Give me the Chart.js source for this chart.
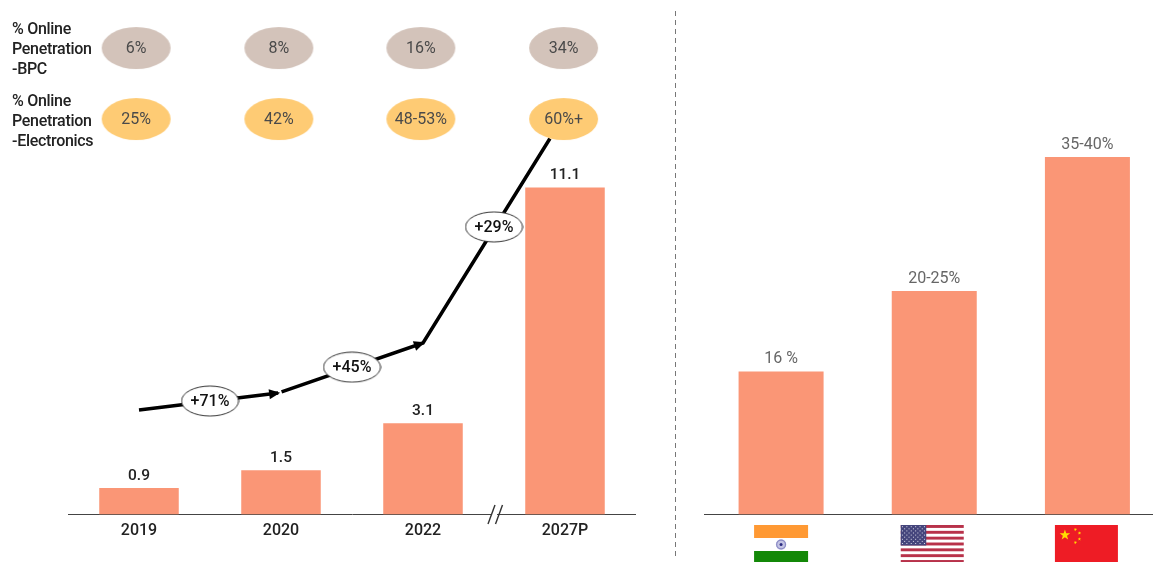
<!DOCTYPE html>
<html>
<head>
<meta charset="utf-8">
<title>Online penetration</title>
<script src="https://cdn.jsdelivr.net/npm/chart.js@4/dist/chart.umd.min.js"></script>
<style>
  html, body { margin: 0; padding: 0; background: #fff; overflow: hidden; }
  #page { position: relative; width: 1153px; height: 562px; overflow: hidden; }
  canvas { position: absolute; top: 0; }
  #left-chart, #left-overlay { left: 0; }
  #right-chart { left: 675px; }
  .row-title {
    position: absolute; left: 12px; font: 500 16px/20px Roboto, sans-serif;
    color: #222; letter-spacing: -0.3px;
  }
</style>
</head>
<body>
<div id="page">
  <canvas id="left-chart" width="636" height="562"></canvas>
  <canvas id="left-overlay" width="636" height="562"></canvas>
  <canvas id="right-chart" width="489" height="562"></canvas>
  <div class="row-title" style="top:19px">% Online<br>Penetration<br>-BPC</div>
  <div class="row-title" style="top:90.5px">% Online<br>Penetration<br>-Electronics</div>
</div>
<script>
// Left chart data
const years = ['2019', '2020', '2022', '2027P'];
const marketSize = [0.9, 1.5, 3.1, 11.1];
const marketLabels = ['0.9', '1.5', '3.1', '11.1'];
const bpcPenetration = ['6%', '8%', '16%', '34%'];
const electronicsPenetration = ['25%', '42%', '48-53%', '60%+'];
const growthRates = ['+71%', '+45%', '+29%'];

// Growth arrow path, in bar units; null breaks the line
const growthLineX = [0, 0.98, null, 1.004, 2, 2.894];
const growthLineY = [3.55, 4.12, null, 4.16, 5.82, 12.76];

// Right chart data
const countries = ['India', 'USA', 'China'];
const countryShare = [16, 25, 40];
const countryLabels = ['16 %', '20-25%', '35-40%'];

// Colours
const BAR_COLOR = '#fa9676';
const BPC_COLOR = '#d3c3ba';
const ELECTRONICS_COLOR = '#fecb74';

// Where the ellipses sit on the overlay axes
const ROW_Y_BPC = 15.83;
const ROW_Y_ELECTRONICS = 13.42;
const PILL_X = [-0.02, 0.985, 1.985, 2.99];
const BADGE_X = [0.5, 1.5, 2.5];
const BADGE_Y = [3.85, 5.0, 9.76];

const Y_MAX_LEFT = 17.46;

// Build an ellipse image to use as a point style
function ellipseImage(w, h, fill, stroke) {
  const c = document.createElement('canvas');
  c.width = w;
  c.height = h;
  const g = c.getContext('2d');
  g.beginPath();
  g.ellipse(w / 2, h / 2, w / 2 - 1, h / 2 - 1, 0, 0, Math.PI * 2);
  g.fillStyle = fill;
  g.fill();
  if (stroke) {
    g.strokeStyle = stroke;
    g.lineWidth = 1;
    g.stroke();
  }
  return c;
}

function drawText(ctx, text, x, y, font, color) {
  ctx.font = font;
  ctx.fillStyle = color;
  ctx.textAlign = 'center';
  ctx.textBaseline = 'middle';
  ctx.fillText(text, x, y + 1);
}

function arrowHead(ctx, from, to) {
  const angle = Math.atan2(to.y - from.y, to.x - from.x);
  ctx.save();
  ctx.translate(to.x, to.y);
  ctx.rotate(angle);
  ctx.beginPath();
  ctx.moveTo(2, 0);
  ctx.lineTo(-9, -5);
  ctx.lineTo(-9, 5);
  ctx.closePath();
  ctx.fillStyle = '#000';
  ctx.fill();
  ctx.restore();
}

// Bar values and the axis break on the left chart
const leftLabels = {
  id: 'leftLabels',
  afterDatasetsDraw(chart) {
    const ctx = chart.ctx;
    chart.getDatasetMeta(0).data.forEach((bar, i) => {
      drawText(ctx, marketLabels[i], bar.x, bar.y - 13, '500 15.5px Roboto, sans-serif', '#222');
    });

    // axis break between 2022 and 2027P
    const x = chart.scales.x;
    const bx = (x.getPixelForValue(2) + x.getPixelForValue(3)) / 2;
    const by = chart.scales.y.getPixelForValue(0);
    ctx.save();
    ctx.fillStyle = '#fff';
    ctx.fillRect(bx - 2, by - 2, 5, 4);
    ctx.strokeStyle = '#333';
    ctx.lineWidth = 1.4;
    [-2.5, 5].forEach(dx => {
      ctx.beginPath();
      ctx.moveTo(bx + dx - 3.5, by + 9.5);
      ctx.lineTo(bx + dx + 3.5, by - 9.5);
      ctx.stroke();
    });
    ctx.restore();
  }
};

// Texts inside the ellipses and the arrow heads on the overlay
const overlayLabels = {
  id: 'overlayLabels',
  afterDatasetsDraw(chart) {
    const ctx = chart.ctx;
    const pillFont = '400 16px Roboto, sans-serif';

    const line = chart.getDatasetMeta(0).data;
    arrowHead(ctx, line[0], line[1]);
    arrowHead(ctx, line[3], line[4]);

    chart.getDatasetMeta(1).data.forEach((pt, i) => {
      drawText(ctx, growthRates[i], pt.x, pt.y, '500 16px Roboto, sans-serif', '#111');
    });
    chart.getDatasetMeta(2).data.forEach((pt, i) => {
      drawText(ctx, bpcPenetration[i], pt.x, pt.y, pillFont, '#4a4a4a');
    });
    chart.getDatasetMeta(3).data.forEach((pt, i) => {
      drawText(ctx, electronicsPenetration[i], pt.x, pt.y, pillFont, '#4a4a4a');
    });
  }
};

function star(ctx, cx, cy, r, rot) {
  ctx.beginPath();
  for (let i = 0; i < 10; i++) {
    const rad = i % 2 === 0 ? r : r * 0.4;
    const a = rot - Math.PI / 2 + i * Math.PI / 5;
    ctx.lineTo(cx + rad * Math.cos(a), cy + rad * Math.sin(a));
  }
  ctx.closePath();
  ctx.fill();
}

function drawIndia(ctx, x, y) {
  ctx.fillStyle = '#ff9933';
  ctx.fillRect(x, y, 54, 13);
  ctx.fillStyle = '#138808';
  ctx.fillRect(x, y + 26, 54, 13);
  ctx.fillStyle = '#c4c4e4';
  ctx.beginPath();
  ctx.arc(x + 27, y + 19.5, 5.2, 0, Math.PI * 2);
  ctx.fill();
  ctx.strokeStyle = '#8a8ac4';
  ctx.lineWidth = 1.2;
  ctx.beginPath();
  ctx.arc(x + 27, y + 19.5, 4.4, 0, Math.PI * 2);
  ctx.stroke();
  ctx.fillStyle = '#2c2c80';
  ctx.beginPath();
  ctx.arc(x + 27, y + 19.5, 1.5, 0, Math.PI * 2);
  ctx.fill();
}

function drawUsa(ctx, x, y) {
  for (let i = 0; i < 13; i += 2) {
    ctx.fillStyle = '#b8324a';
    ctx.fillRect(x, y + i * 2.92, 63, 2.92);
  }
  ctx.fillStyle = '#45457c';
  ctx.fillRect(x, y, 25.5, 20.5);
  ctx.fillStyle = '#d8d8e6';
  for (let r = 0; r < 9; r++) {
    for (let c = 0; c < 11; c++) {
      if ((r + c) % 2 === 0) ctx.fillRect(x + 1.2 + c * 2.2, y + 1.2 + r * 2.1, 1, 1);
    }
  }
}

function drawChina(ctx, x, y) {
  ctx.fillStyle = '#ee1c25';
  ctx.fillRect(x, y, 63, 39);
  ctx.fillStyle = '#ffde00';
  star(ctx, x + 10, y + 10, 5.5, 0);
  star(ctx, x + 20.5, y + 4.5, 1.8, 0.5);
  star(ctx, x + 24.5, y + 8, 1.8, 1);
  star(ctx, x + 24.5, y + 14, 1.8, 0);
  star(ctx, x + 20.5, y + 17.5, 1.8, 0.5);
}

// Labels, flags and the divider for the right chart
const rightLabels = {
  id: 'rightLabels',
  afterDatasetsDraw(chart) {
    const ctx = chart.ctx;
    chart.getDatasetMeta(0).data.forEach((bar, i) => {
      drawText(ctx, countryLabels[i], bar.x, bar.y - 13, '400 16px Roboto, sans-serif', '#666');
    });

    const x = chart.scales.x;
    const top = chart.scales.y.getPixelForValue(0) + 10.5;
    drawIndia(ctx, x.getPixelForValue(0) - 27, top);
    drawUsa(ctx, x.getPixelForValue(1) - 33.5, top);
    drawChina(ctx, x.getPixelForValue(2) - 32.5, top);

    // dashed divider between the two panels
    ctx.save();
    ctx.strokeStyle = '#777';
    ctx.lineWidth = 1;
    ctx.setLineDash([5, 4]);
    ctx.beginPath();
    ctx.moveTo(0.5, 11);
    ctx.lineTo(0.5, 560);
    ctx.stroke();
    ctx.restore();
  }
};

function axisOptions(height) {
  return {
    type: 'category',
    grid: { display: false, drawTicks: false },
    border: { display: true, color: '#444', width: 1 },
    ticks: { color: '#222', padding: 7, maxRotation: 0, font: { family: 'Roboto', size: 16, weight: '500' } },
    afterFit(scale) { scale.height = height; }
  };
}

// Left: bars
new Chart(document.getElementById('left-chart').getContext('2d'), {
  type: 'bar',
  data: {
    labels: years,
    datasets: [{
      data: marketSize,
      backgroundColor: BAR_COLOR,
      barPercentage: 0.56,
      categoryPercentage: 1
    }]
  },
  options: {
    responsive: false,
    animation: false,
    layout: { padding: { left: 68, right: 0, top: 0, bottom: 0 } },
    plugins: { legend: { display: false }, tooltip: { enabled: false } },
    scales: {
      x: axisOptions(47.5),
      y: { display: false, min: 0, max: Y_MAX_LEFT }
    }
  },
  plugins: [leftLabels]
});

// Left overlay: growth arrow and ellipses, same plot area as the bars
new Chart(document.getElementById('left-overlay').getContext('2d'), {
  type: 'scatter',
  data: {
    datasets: [
      {
        showLine: true,
        spanGaps: false,
        data: growthLineX.map((x, i) => ({ x: x, y: growthLineY[i] })),
        borderColor: '#000',
        borderWidth: 3.5,
        pointRadius: 0,
        order: 4
      },
      {
        data: BADGE_X.map((x, i) => ({ x: x, y: BADGE_Y[i] })),
        pointStyle: ellipseImage(59, 32, '#fff', '#333'),
        pointRadius: 3,
        order: 3
      },
      {
        data: PILL_X.map(x => ({ x: x, y: ROW_Y_BPC })),
        pointStyle: ellipseImage(71, 44, BPC_COLOR),
        pointRadius: 3,
        order: 2
      },
      {
        data: PILL_X.map(x => ({ x: x, y: ROW_Y_ELECTRONICS })),
        pointStyle: ellipseImage(71, 44, ELECTRONICS_COLOR),
        pointRadius: 3,
        order: 1
      }
    ]
  },
  options: {
    responsive: false,
    animation: false,
    layout: { autoPadding: false, padding: { left: 68, right: 0, top: 0, bottom: 47.5 } },
    plugins: { legend: { display: false }, tooltip: { enabled: false } },
    scales: {
      x: { type: 'linear', display: false, min: -0.5, max: 3.5 },
      y: { display: false, min: 0, max: Y_MAX_LEFT }
    }
  },
  plugins: [overlayLabels]
});

// Right: countries
new Chart(document.getElementById('right-chart').getContext('2d'), {
  type: 'bar',
  data: {
    labels: countries,
    datasets: [{
      data: countryShare,
      backgroundColor: BAR_COLOR,
      barPercentage: 0.555,
      categoryPercentage: 1
    }]
  },
  options: {
    responsive: false,
    animation: false,
    layout: { padding: { left: 29.5, right: 0, top: 0, bottom: 0 } },
    plugins: { legend: { display: false }, tooltip: { enabled: false } },
    scales: {
      x: Object.assign(axisOptions(47.5), { ticks: { display: false } }),
      y: { display: false, min: 0, max: 57.55 }
    }
  },
  plugins: [rightLabels]
});
</script>
</body>
</html>
